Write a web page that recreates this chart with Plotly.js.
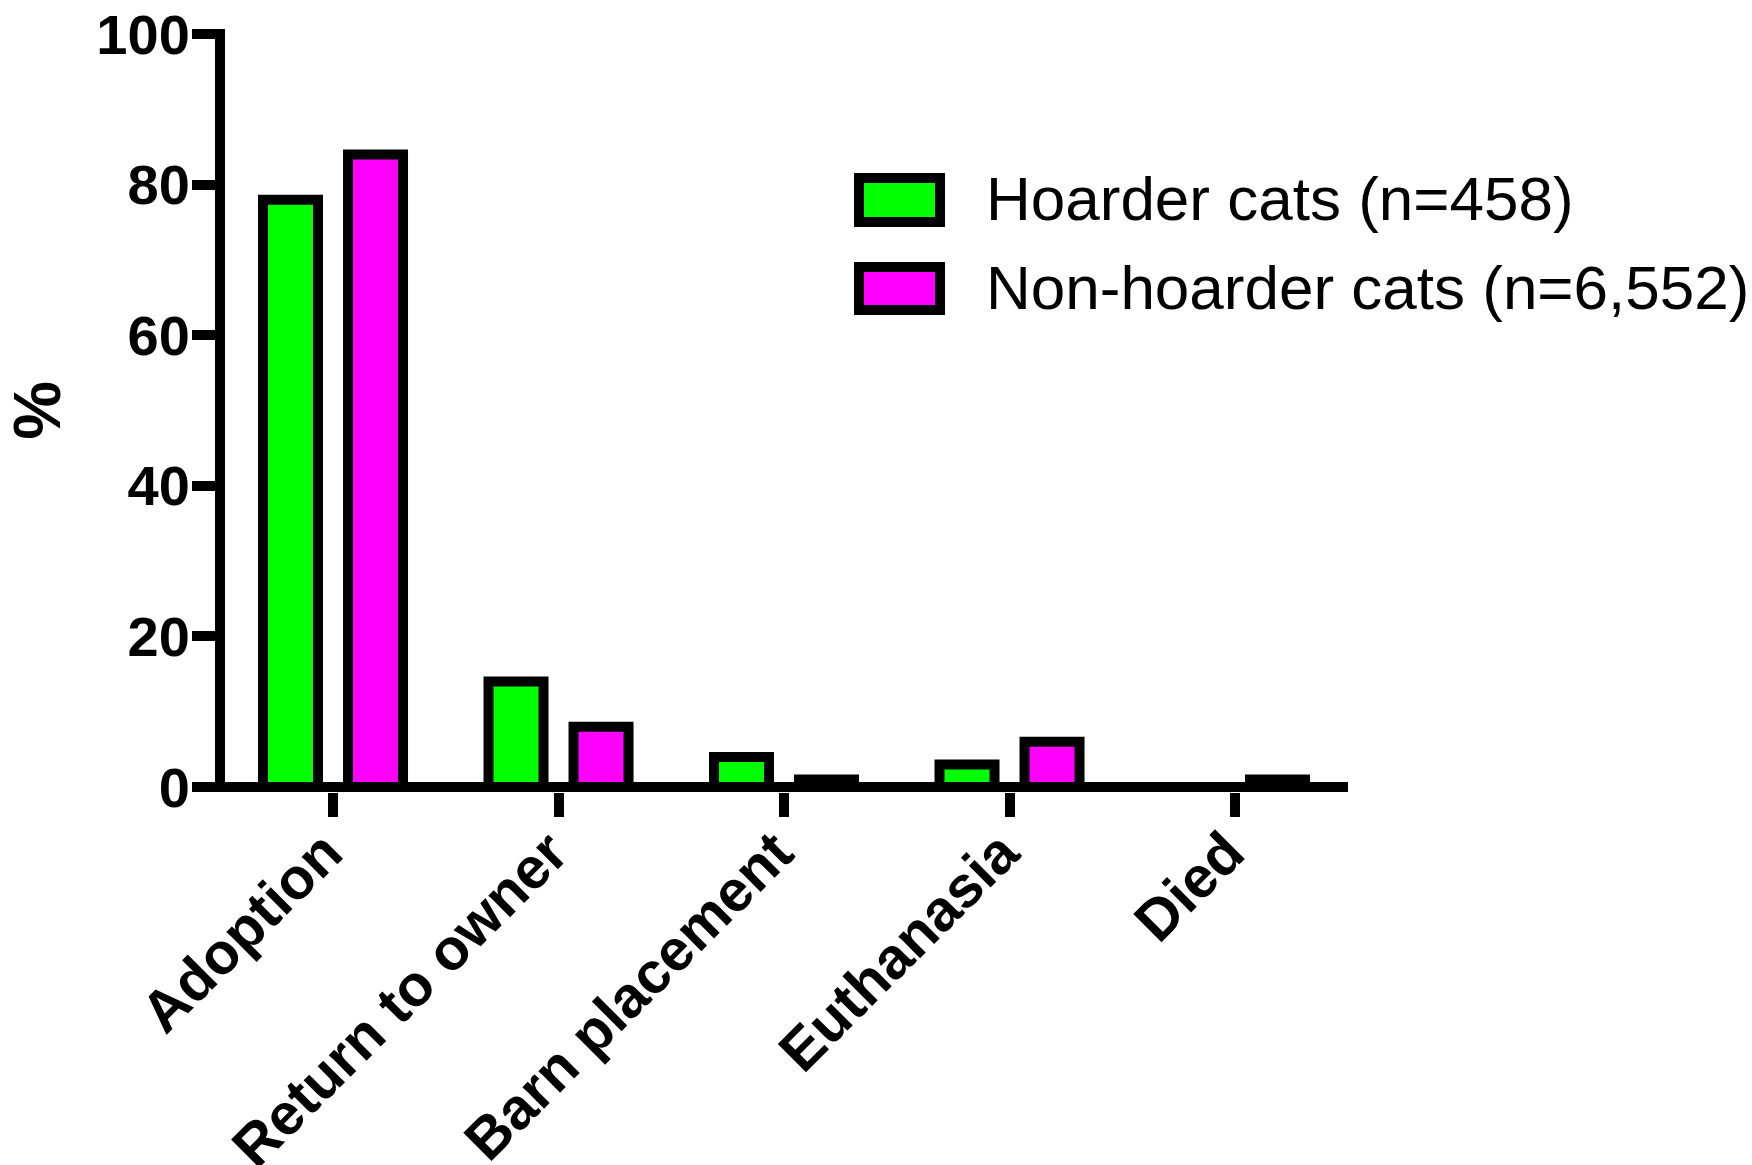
<!DOCTYPE html>
<html>
<head>
<meta charset="utf-8">
<script src="https://cdn.plot.ly/plotly-3.0.1.min.js"></script>
<style>html,body{margin:0;padding:0;background:#fff;}#chart{width:1752px;height:1165px;}</style>
</head>
<body>
<div id="chart"></div>
<script>
// ---- data ----
const categories = ['Adoption', 'Return to owner', 'Barn placement', 'Euthanasia', 'Died'];
const hoarderPct = [78, 14, 4, 3, 0];
const nonHoarderPct = [84, 8, 1, 6, 1];
const seriesNames = ['Hoarder cats (n=458)', 'Non-hoarder cats (n=6,552)'];
const seriesColors = ['#00ff00', '#ff00ff'];
const yTickVals = [0, 20, 40, 60, 80, 100];
const yTitle = '%';

// ---- layout helpers (pixel geometry of the figure) ----
const W = 1752, H = 1165;
const M = {l: 225, r: 404, t: 29, b: 373};
const plotW = W - M.l - M.r, plotH = H - M.t - M.b;
const px = x => (x - M.l) / plotW;
const py = y => (H - M.b - y) / plotH;

const FONT = 'Liberation Sans, Arial, Helvetica, sans-serif';

const traces = [
  {type: 'bar', name: seriesNames[0], x: categories, y: hoarderPct,
   marker: {color: seriesColors[0], line: {color: '#000', width: 10}}, showlegend: false, hoverinfo: 'x+y'},
  {type: 'bar', name: seriesNames[1], x: categories, y: nonHoarderPct,
   marker: {color: seriesColors[1], line: {color: '#000', width: 10}}, showlegend: false, hoverinfo: 'x+y'}
];

const legendBoxes = [
  {x0: 859, x1: 940, y0: 178, y1: 222, textY: 198},
  {x0: 859, x1: 940, y0: 267, y1: 310, textY: 287}
];

const shapes = legendBoxes.map((b, i) => ({
  type: 'rect', xref: 'paper', yref: 'paper',
  x0: px(b.x0), x1: px(b.x1), y0: py(b.y1), y1: py(b.y0),
  fillcolor: seriesColors[i], line: {color: '#000', width: 10}
}));

const annotations = legendBoxes.map((b, i) => ({
  xref: 'paper', yref: 'paper', x: px(984), y: py(b.textY),
  xanchor: 'left', yanchor: 'middle', showarrow: false,
  text: seriesNames[i], font: {family: FONT, size: 62, color: '#000'}
}));

const layout = {
  width: W, height: H,
  margin: {l: M.l, r: M.r, t: M.t, b: M.b, pad: 0},
  paper_bgcolor: '#fff', plot_bgcolor: '#fff',
  font: {family: FONT, color: '#000'},
  barmode: 'group', bargap: 0.246, bargroupgap: 0.353,
  showlegend: false,
  xaxis: {
    type: 'category', range: [-0.479, 4.501], fixedrange: true,
    showline: false, showgrid: false, zeroline: false,
    ticks: 'outside', ticklen: 24, tickwidth: 10, tickcolor: '#000',
    tickangle: -45, ticklabelstandoff: -22, ticklabelshift: -8,
    tickfont: {family: FONT, size: 58, weight: 'bold', color: '#000'}
  },
  yaxis: {
    range: [-0.664, 100.664], fixedrange: true,
    tickmode: 'array', tickvals: yTickVals, ticktext: yTickVals.map(String),
    showline: true, linewidth: 10, linecolor: '#000',
    showgrid: false,
    zeroline: true, zerolinewidth: 10, zerolinecolor: '#000',
    ticks: 'outside', ticklen: 23, tickwidth: 10, tickcolor: '#000',
    ticklabelstandoff: -9,
    tickfont: {family: FONT, size: 56, weight: 'bold', color: '#000'},
    title: {text: yTitle, font: {family: FONT, size: 66, weight: 'bold', color: '#000'}, standoff: 24}
  },
  shapes: shapes,
  annotations: annotations
};

Plotly.newPlot('chart', traces, layout, {displayModeBar: false, staticPlot: true});
</script>
</body>
</html>
